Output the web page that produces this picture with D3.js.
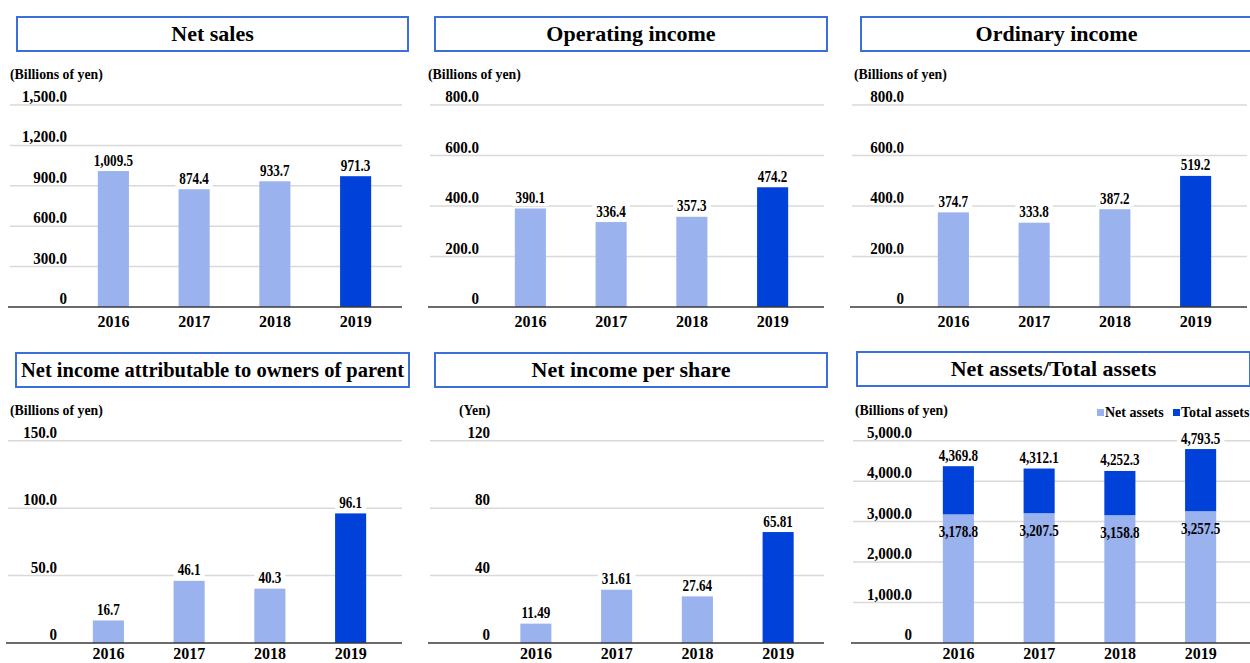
<!DOCTYPE html>
<html>
<head>
<meta charset="utf-8">
<script src="https://cdn.jsdelivr.net/npm/d3@7"></script>
<style>
  body { margin: 0; background: #fff; }
</style>
</head>
<body>
<div id="chart"></div>
<script>
// values
var years = ["2016", "2017", "2018", "2019"];
var netSales = [1009.5, 874.4, 933.7, 971.3];
var operatingIncome = [390.1, 336.4, 357.3, 474.2];
var ordinaryIncome = [374.7, 333.8, 387.2, 519.2];
var netIncome = [16.7, 46.1, 40.3, 96.1];
var netIncomePerShare = [11.49, 31.61, 27.64, 65.81];
var netAssets = [3178.8, 3207.5, 3158.8, 3257.5];
var totalAssets = [4369.8, 4312.1, 4252.3, 4793.5];

var salesTicks = [0, 300, 600, 900, 1200, 1500];
var incomeTicks = [0, 200, 400, 600, 800];
var netIncomeTicks = [0, 50, 100, 150];
var perShareTicks = [0, 40, 80, 120];
var assetTicks = [0, 1000, 2000, 3000, 4000, 5000];

var lightBlue = "#9ab2ee", darkBlue = "#0041d9";

var svg = d3.select("#chart").append("svg")
    .attr("width", 1250)
    .attr("height", 663)
    .attr("font-family", "Liberation Serif")
    .attr("font-weight", "bold");

var fmt1 = d3.format(",.1f");
var fmt2 = d3.format(".2f");

// squeeze a text horizontally so it looks like the narrow face of the original
function squeeze(t, k) {
    var w = t.node().getComputedTextLength();
    t.attr("textLength", w * k).attr("lengthAdjust", "spacingAndGlyphs");
}

function drawPanel(p) {
    var g = svg.append("g");

    // title box
    g.append("rect")
        .attr("x", p.box[0]).attr("y", p.box[1])
        .attr("width", p.box[2] - p.box[0]).attr("height", p.box[3] - p.box[1])
        .attr("fill", "#fff")
        .attr("stroke", "#3b6fdc")
        .attr("stroke-width", 2);
    var title = g.append("text")
        .attr("x", (p.box[0] + p.box[2]) / 2)
        .attr("y", (p.box[1] + p.box[3]) / 2 + 7)
        .attr("text-anchor", "middle")
        .attr("font-size", 22)
        .text(p.title);
    var tw = title.node().getComputedTextLength();
    var room = p.box[2] - p.box[0] - 10;
    if (tw > room) squeeze(title, room / tw);

    // unit label
    var unit = g.append("text")
        .attr("x", p.unitX)
        .attr("y", p.axisY - p.plotH - 26)
        .attr("font-size", 15)
        .text(p.unit);
    squeeze(unit, 0.92);

    var y = d3.scaleLinear()
        .domain([0, d3.max(p.ticks)])
        .range([p.axisY, p.axisY - p.plotH]);
    var x = d3.scaleBand()
        .domain(years)
        .range(p.xRange)
        .paddingInner(0.615)
        .paddingOuter(0.3075);

    // gridlines
    g.selectAll(".grid")
        .data(p.ticks.filter(d => d > 0))
        .enter().append("line")
        .attr("x1", p.gridX[0]).attr("x2", p.gridX[1])
        .attr("y1", d => y(d)).attr("y2", d => y(d))
        .attr("stroke", "#d9d9d9")
        .attr("stroke-width", 1.5);

    // tick labels
    g.selectAll(".tick")
        .data(p.ticks)
        .enter().append("text")
        .attr("x", p.tickX)
        .attr("y", d => y(d) - 3)
        .attr("text-anchor", "end")
        .attr("font-size", 16)
        .text(d => d === 0 ? "0" : p.tickFmt(d))
        .each(function() { squeeze(d3.select(this), 0.94); });

    // bars
    p.series.forEach(function(s) {
        g.selectAll(null)
            .data(years)
            .enter().append("rect")
            .attr("x", d => x(d))
            .attr("width", x.bandwidth())
            .attr("y", (d, i) => y(s.top[i]))
            .attr("height", (d, i) => y(s.base ? s.base[i] : 0) - y(s.top[i]))
            .attr("fill", (d, i) => s.color(i));
    });

    // axis line
    g.append("line")
        .attr("x1", p.gridX[0] - 2).attr("x2", p.gridX[1])
        .attr("y1", p.axisY).attr("y2", p.axisY)
        .attr("stroke", "#3a3a3a")
        .attr("stroke-width", 1.5);

    // year labels
    g.selectAll(".year")
        .data(years)
        .enter().append("text")
        .attr("x", d => x(d) + x.bandwidth() / 2)
        .attr("y", p.axisY + p.yearDy)
        .attr("text-anchor", "middle")
        .attr("font-size", 16)
        .text(d => d);

    // value labels
    p.labels.forEach(function(l) {
        years.forEach(function(yr, i) {
            var lg = g.append("g");
            var ty = l.inside ? y(l.values[i]) + 23 : y(l.values[i]) - 5.5;
            var t = lg.append("text")
                .attr("x", x(yr) + x.bandwidth() / 2)
                .attr("y", ty)
                .attr("text-anchor", "middle")
                .attr("font-size", 16)
                .text(l.fmt(l.values[i]));
            squeeze(t, 0.82);
            if (!l.inside) {
                var bb = t.node().getBBox();
                lg.insert("rect", "text")
                    .attr("x", bb.x - 4).attr("y", bb.y + 1)
                    .attr("width", bb.width + 8).attr("height", bb.height - 1)
                    .attr("fill", "#fff");
            }
        });
    });

    if (p.legend) {
        p.legend.forEach(function(it) {
            g.append("rect")
                .attr("x", it.x).attr("y", 409)
                .attr("width", 7).attr("height", 7)
                .attr("fill", it.color);
            g.append("text")
                .attr("x", it.x + 8).attr("y", 417)
                .attr("font-size", 14)
                .text(it.name);
        });
    }
}

var lastDark = i => i === 3 ? darkBlue : lightBlue;

var panels = [
    {title: "Net sales", box: [17, 17, 408, 51], unit: "(Billions of yen)", unitX: 10,
     axisY: 307, plotH: 202, yearDy: 20, gridX: [10, 402], tickX: 67, xRange: [73, 396],
     ticks: salesTicks, tickFmt: fmt1,
     series: [{top: netSales, color: lastDark}],
     labels: [{values: netSales, fmt: fmt1}]},
    {title: "Operating income", box: [435, 17, 827, 51], unit: "(Billions of yen)", unitX: 428,
     axisY: 307, plotH: 202, yearDy: 20, gridX: [430, 824], tickX: 479, xRange: [490, 813],
     ticks: incomeTicks, tickFmt: fmt1,
     series: [{top: operatingIncome, color: lastDark}],
     labels: [{values: operatingIncome, fmt: fmt1}]},
    {title: "Ordinary income", box: [861, 17, 1252, 51], unit: "(Billions of yen)", unitX: 854,
     axisY: 307, plotH: 202, yearDy: 20, gridX: [852, 1247], tickX: 904, xRange: [913, 1236],
     ticks: incomeTicks, tickFmt: fmt1,
     series: [{top: ordinaryIncome, color: lastDark}],
     labels: [{values: ordinaryIncome, fmt: fmt1}]},
    {title: "Net income attributable to owners of parent", box: [16, 353, 409, 387], unit: "(Billions of yen)", unitX: 10,
     axisY: 643, plotH: 202.3, yearDy: 16, gridX: [8, 402], tickX: 57, xRange: [68, 391],
     ticks: netIncomeTicks, tickFmt: fmt1,
     series: [{top: netIncome, color: lastDark}],
     labels: [{values: netIncome, fmt: fmt1}]},
    {title: "Net income per share", box: [435, 353, 827, 387], unit: "(Yen)", unitX: 459,
     axisY: 643, plotH: 202.3, yearDy: 16, gridX: [430, 824], tickX: 490, xRange: [495.5, 818.5],
     ticks: perShareTicks, tickFmt: d3.format("d"),
     series: [{top: netIncomePerShare, color: lastDark}],
     labels: [{values: netIncomePerShare, fmt: fmt2}]},
    {title: "Net assets/Total assets", box: [857, 352, 1250, 386], unit: "(Billions of yen)", unitX: 855,
     axisY: 643, plotH: 202.3, yearDy: 16, gridX: [853, 1250], tickX: 912, xRange: [918, 1241],
     ticks: assetTicks, tickFmt: fmt1,
     series: [{top: netAssets, color: () => lightBlue},
              {base: netAssets, top: totalAssets, color: () => darkBlue}],
     labels: [{values: totalAssets, fmt: fmt1},
              {values: netAssets, fmt: fmt1, inside: true}],
     legend: [{name: "Net assets", color: lightBlue, x: 1097},
              {name: "Total assets", color: darkBlue, x: 1173}]}
];

panels.forEach(drawPanel);
</script>
</body>
</html>
